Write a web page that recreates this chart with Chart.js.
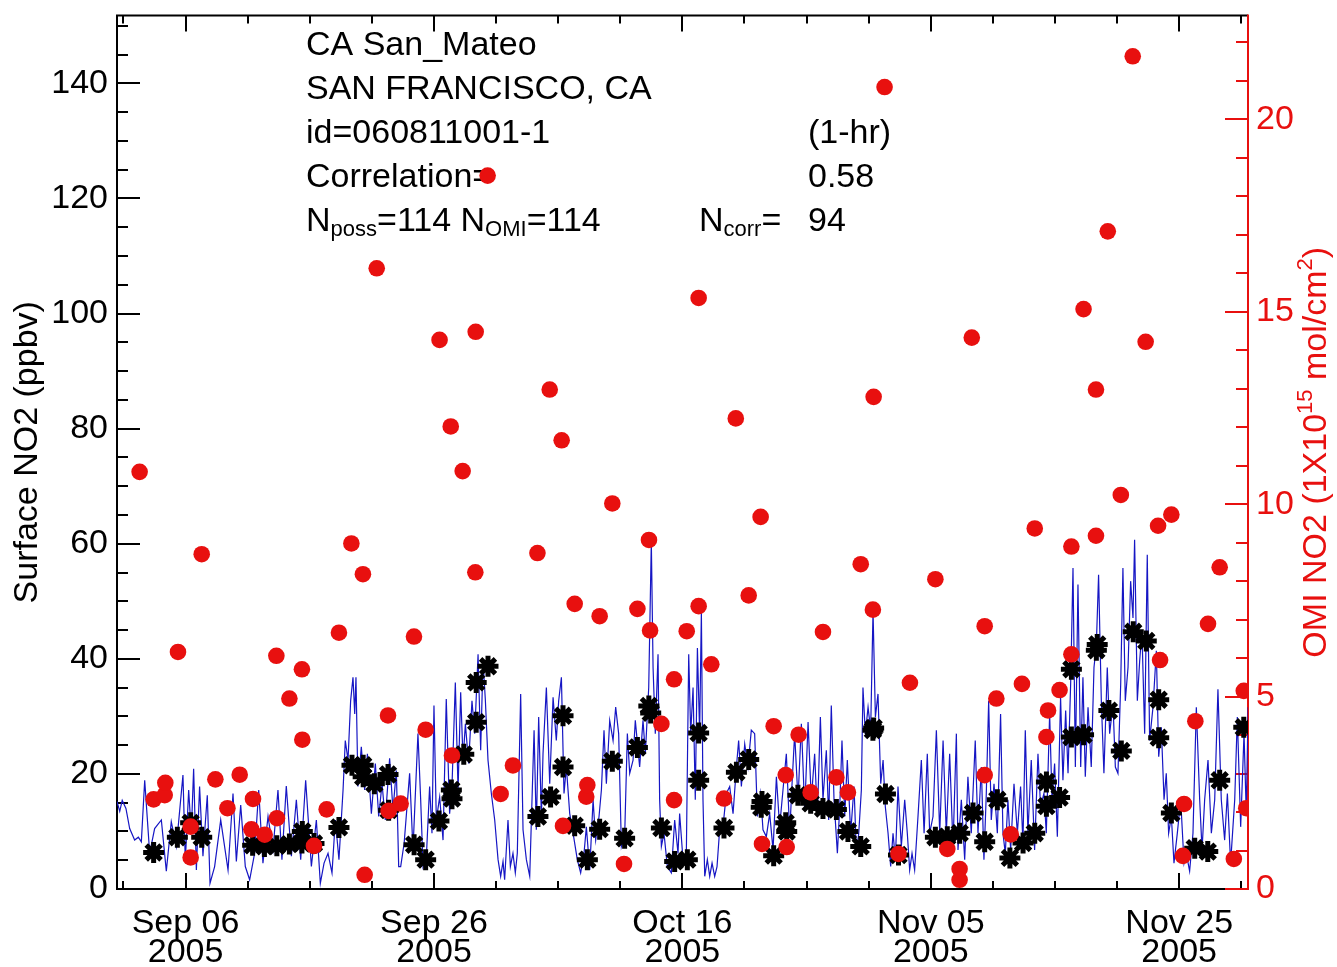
<!DOCTYPE html>
<html>
<head>
<meta charset="utf-8">
<script src="https://cdn.jsdelivr.net/npm/chart.js@4.4.0/dist/chart.umd.min.js"></script>
<style>
html,body{margin:0;padding:0;background:#ffffff;}
canvas{display:block;}
</style>
</head>
<body>
<canvas id="c" width="1337" height="967"></canvas>
<script>
const FONT = "'Liberation Sans', Arial, Helvetica, sans-serif";

// ---- info text ----
const siteName = "CA San_Mateo";
const cityName = "SAN FRANCISCO, CA";
const siteId = "id=060811001-1";
const avgLabel = "(1-hr)";
const corrLabel = "Correlation=";
const corrValue = "0.58";
const nPoss = 114, nOmi = 114, nCorr = 94;

// ---- axes ----
const xMin = -0.52, xMax = 90.54;          // days since 2005-09-01 00:00
const leftMax = 151.8, rightMax = 22.7;
const xTickValues = [5, 25, 45, 65, 85];
const xTickLabels = [["Sep 06","2005"],["Sep 26","2005"],["Oct 16","2005"],["Nov 05","2005"],["Nov 25","2005"]];
const leftTicks = [0, 20, 40, 60, 80, 100, 120, 140];
const rightTicks = [0, 5, 10, 15, 20];
const leftTitle = "Surface NO2 (ppbv)";

// ---- hourly surface NO2 (ppbv), days since Sep 1 ----
const hourlyT = [
-0.52,-0.3,-0.1,0.2,0.5,0.9,1.2,1.44,1.71,2.11,2.51,3.05,3.45,3.85,4.26,4.79,4.98,5.25,5.46,5.65,5.87,6.13,6.40,6.75,6.97,7.34,7.83,8.42,8.82,9.09,9.44,9.81,10.16,10.56,10.89,11.23,11.64,12.04,12.44,12.76,13.11,13.52,13.92,14.27,14.67,15.13,15.53,15.85,16.15,16.47,16.79,17.06,17.35,17.68,17.86,18.08,18.29,18.48,18.62,18.72,18.88,19.15,19.42,19.64,19.96,20.28,20.55,20.82,21.08,21.43,21.70,21.97,22.16,
22.32,22.6,23.04,23.31,23.71,23.93,24.12,24.39,24.65,24.84,25.0,25.19,25.46,25.73,25.99,26.26,26.45,26.72,26.94,27.15,27.34,27.53,27.79,28.06,28.28,28.55,28.76,28.95,29.14,29.35,29.62,29.89,30.16,30.37,30.56,30.69,30.96,31.15,31.36,31.55,31.71,31.98,32.17,32.44,32.71,33.06,33.24,33.43,33.65,33.78,34.05,34.32,34.59,34.85,35.04,35.26,35.47,35.66,35.93,36.2,36.54,36.81,37.08,37.27,37.54,37.81,38.02,38.29,38.48,38.69,38.88,39.15,39.42,39.63,39.87,40.09,40.36,40.57,40.76,41.03,41.21,41.56,41.83,42.02,42.29,42.50,42.64,42.82,43.04,43.17,43.31,43.52,43.79,44.11,44.38,44.65,
44.78,45.05,45.32,45.51,45.67,45.86,46.04,46.21,46.39,46.53,46.66,46.80,47.01,47.2,47.39,47.6,47.79,48.0,48.27,48.54,48.81,49.08,49.35,49.53,49.75,50.02,50.28,50.55,50.82,51.04,51.30,51.49,51.76,52.03,52.30,52.57,52.83,53.10,53.37,53.64,53.83,54.04,54.31,54.58,54.85,55.12,55.38,55.65,55.87,56.11,56.32,56.59,56.78,56.99,57.21,57.48,57.67,57.85,58.07,58.28,58.55,58.82,59.01,59.2,59.41,59.54,59.73,59.95,60.16,60.35,60.54,60.75,60.97,61.16,61.34,61.56,61.77,61.96,62.15,62.36,62.63,62.9,63.11,63.3,63.49,63.7,63.97,64.24,64.46,64.72,64.91,65.18,65.45,65.72,65.99,66.25,66.52,66.79,
67.06,67.19,67.46,67.73,67.99,68.26,68.58,68.80,69.07,69.28,69.47,69.66,69.87,70.09,70.36,70.62,70.81,71.0,71.21,71.43,71.70,71.97,72.23,72.42,72.61,72.82,73.09,73.36,73.63,73.84,74.11,74.30,74.57,74.76,74.97,75.19,75.45,75.64,75.86,76.05,76.26,76.45,76.64,76.85,77.07,77.25,77.44,77.66,77.92,78.14,78.33,78.51,78.73,78.94,79.21,79.40,79.67,79.86,80.07,80.29,80.47,80.66,80.88,81.09,81.28,81.41,81.63,81.82,82.0,82.22,82.43,82.62,82.89,83.16,83.35,83.56,83.78,83.96,84.15,84.37,84.58,84.85,85.12,85.39,85.57,85.84,86.11,86.38,86.65,86.84,87.05,87.32,87.59,87.86,88.12,88.39,88.66,88.88,89.14,89.47,89.68,89.95,90.22,90.40,90.55
];
const hourlyV = [
15.2,13.5,15.4,14.0,10.5,8.5,9.0,8.2,18.9,6.2,10.5,12.0,3.1,11.7,7.4,19.8,4.8,17.2,9.7,20.9,3.3,17.8,5.7,16.3,1.0,3.9,12.0,3.3,16.6,4.8,14.6,3.9,1.6,6.2,17.2,4.5,12.6,6.8,17.2,5.1,17.9,5.7,15.5,5.1,18.9,3.9,12.0,1.0,4.5,6.2,2.8,12.0,5.1,17.2,25.8,22.4,32.7,36.8,30.4,36.8,17.8,24.7,17.2,23.5,13.1,21.8,12.6,18.3,12.0,22.7,13.7,20.6,3.9,
3.9,8.0,20.1,6.8,27.0,15.5,3.9,5.7,17.8,9.7,31.9,12.0,16.0,8.5,33.0,13.1,17.8,35.9,17.2,34.2,22.4,28.7,21.8,32.7,27.0,40.8,24.1,39.7,32.7,22.4,16.6,12.0,5.1,2.2,4.8,1.6,12.0,3.9,6.2,2.8,6.2,33.9,10.3,5.1,2.2,27.6,10.3,29.9,12.6,23.5,35.0,18.3,33.3,25.8,32.7,36.8,16.6,21.2,13.1,9.7,5.1,2.8,6.2,10.8,3.3,15.5,8.5,12.6,17.2,27.6,18.3,29.3,25.8,31.6,27.0,7.4,9.7,27.0,20.1,22.4,29.3,21.2,29.3,23.5,35.0,60.4,38.5,27.0,40.8,15.5,7.4,9.7,3.9,2.8,12.0,6.2,
13.1,5.1,6.2,40.8,27.0,35.0,15.5,41.9,27.0,48.3,15.5,2.2,5.1,2.2,4.5,2.2,3.9,10.3,10.8,16.6,17.8,13.1,21.2,25.8,17.8,25.2,21.2,27.6,27.0,12.6,16.6,10.3,9.1,13.1,6.8,19.5,10.8,17.2,23.5,9.7,18.3,27.0,15.5,28.7,13.7,29.0,15.5,23.5,12.6,29.9,15.5,24.1,12.0,31.9,15.5,6.2,14.3,25.8,12.6,22.4,9.7,17.8,6.2,9.7,17.2,35.0,27.0,31.6,27.6,48.3,29.9,33.9,18.3,22.4,14.3,9.7,3.9,9.7,5.1,17.8,7.4,15.5,9.7,3.3,6.2,3.3,12.6,22.4,9.7,23.5,9.7,12.6,27.6,9.7,25.8,9.7,23.5,7.4,
27.0,6.8,15.5,5.1,19.5,9.7,25.8,9.7,21.2,5.1,16.6,32.7,12.0,18.3,9.7,30.4,9.7,6.2,15.5,6.8,18.3,9.7,17.8,8.0,27.6,9.7,22.4,6.8,23.5,14.3,16.6,9.7,30.4,15.5,21.8,9.1,33.3,18.9,31.0,20.1,35.6,55.8,21.2,52.9,21.2,36.8,19.5,31.6,21.2,38.5,42.5,54.6,32.7,20.1,38.5,27.0,32.2,21.2,20.1,35.6,55.8,32.7,38.5,53.5,47.1,60.7,32.7,39.7,44.8,27.0,58.1,25.8,31.6,41.4,23.0,28.1,15.5,20.1,9.7,12.6,4.5,9.7,15.5,4.5,6.2,3.1,9.7,31.6,15.5,6.8,15.5,22.4,9.7,15.5,34.7,15.5,8.5,16.6,4.5,15.5,29.9,10.8,27.0,13.1,31.6
];

// ---- surface NO2 at OMI overpass (ppbv) ----
const overpassT = [2.43,4.34,5.41,6.30,10.40,11.35,12.35,13.36,14.37,14.40,15.34,17.35,18.4,19.3,19.3,20.2,21.3,21.35,23.40,24.33,25.40,26.40,26.45,27.40,28.40,28.40,29.35,33.37,34.39,35.39,35.39,36.33,37.35,38.34,39.36,40.35,41.38,42.30,42.45,43.31,44.38,45.40,46.31,46.31,48.35,49.35,50.34,51.35,51.41,52.35,53.32,53.40,54.30,55.33,56.32,57.40,58.33,59.36,60.34,60.40,61.35,62.40,65.37,66.33,67.33,68.40,69.34,70.36,71.37,72.43,73.37,74.31,74.31,75.37,76.32,76.32,77.3,78.33,78.40,79.34,80.34,81.30,82.35,83.35,83.35,84.37,86.25,87.30,88.26,90.2];
const overpassV = [6.35,9.0,11.5,9.0,7.6,7.4,7.5,7.8,8.0,10.0,7.9,10.7,21.5,21.5,19.5,18.3,19.9,13.7,7.7,5.1,11.8,17.2,15.7,23.4,35.9,29.0,38.7,12.6,16.0,30.1,21.2,11.0,5.1,10.4,22.2,8.8,24.6,31.8,30.6,10.6,4.8,5.1,27.1,18.9,10.6,20.3,22.5,14.2,15.2,5.8,11.5,10.0,16.3,14.9,14.0,13.8,10.0,7.4,27.6,28.0,16.5,5.9,9.0,9.1,9.7,13.2,8.2,15.5,5.4,8.0,9.7,18.6,14.4,15.9,38.2,26.4,26.8,41.5,42.5,31.0,24.0,44.7,43.1,32.9,26.3,13.2,7.1,6.5,18.9,28.1];

// ---- OMI NO2 (1e15 molec/cm2) ----
const omiT = [1.30,2.43,3.32,3.37,4.39,5.41,5.41,6.30,7.40,8.37,9.36,10.30,10.43,11.37,12.31,12.36,13.36,14.37,14.40,15.34,16.36,17.35,18.35,19.28,19.42,20.39,21.30,21.35,22.32,23.39,24.33,25.45,26.35,26.45,27.31,28.33,28.36,29.32,30.37,31.36,33.33,34.32,35.28,35.39,36.33,37.26,37.35,38.34,39.36,40.30,41.38,42.31,42.40,43.31,44.33,44.33,45.35,46.31,46.31,47.33,48.35,49.30,50.34,51.30,51.41,52.35,53.32,53.40,54.36,55.33,56.32,57.40,58.33,59.36,60.34,60.40,61.28,62.40,63.32,65.37,66.33,67.32,67.32,68.30,69.34,69.34,70.28,71.44,72.34,73.37,74.31,74.44,75.37,76.32,76.32,77.30,78.30,78.30,79.25,80.30,81.26,82.30,83.30,83.46,84.37,85.30,85.39,86.30,87.32,88.26,89.40,90.20,90.40];
const omiV = [10.84,2.33,2.44,2.76,6.16,1.62,0.82,8.70,2.85,2.10,2.97,1.55,2.34,1.41,6.06,1.84,4.95,5.71,3.88,1.12,2.07,6.66,8.98,8.18,0.37,16.13,4.51,2.03,2.22,6.56,4.14,14.27,12.02,3.47,10.86,8.23,14.48,18.54,2.47,3.21,8.73,12.98,11.66,1.64,7.41,2.40,2.70,7.09,10.02,0.65,7.28,9.07,6.72,4.29,5.45,2.31,6.70,7.35,15.36,5.84,2.35,12.23,7.63,9.67,1.17,4.23,2.96,1.09,4.01,2.51,6.68,2.90,2.51,8.44,7.26,12.79,20.84,0.91,5.36,8.05,1.04,0.52,0.24,14.33,6.83,2.96,4.95,1.42,5.33,9.37,3.95,4.64,5.17,8.90,6.10,15.07,9.18,12.98,17.09,10.24,21.64,14.22,9.44,5.95,9.73,0.86,2.21,4.36,6.89,8.36,0.78,5.15,2.10];

const RED = '#e8100f';
const BLUE = '#1616c4';

function drawRuns(ctx, x, y, runs) {
  let cx = x;
  for (const [txt, size, dy] of runs) {
    ctx.font = size + 'px ' + FONT;
    ctx.fillText(txt, cx, y + dy);
    cx += ctx.measureText(txt).width;
  }
}

const framePlugin = {
  id: 'frame',
  beforeDraw(chart) {
    const ctx = chart.ctx;
    ctx.save();
    ctx.fillStyle = '#ffffff';
    ctx.fillRect(0, 0, chart.width, chart.height);
    ctx.restore();
  },
  beforeDatasetsDraw(chart) {
    const { ctx, chartArea: a, scales } = chart;
    const sx = scales.x, sl = scales.y, sr = scales.y2;
    ctx.save();
    // info text block
    ctx.fillStyle = '#000';
    ctx.textBaseline = 'alphabetic';
    ctx.textAlign = 'left';
    const X0 = 306, X1 = 808, XN = 699;
    drawRuns(ctx, X0, 55, [[siteName, 34, 0]]);
    drawRuns(ctx, X0, 99, [[cityName, 34, 0]]);
    drawRuns(ctx, X0, 143, [[siteId, 34, 0]]);
    drawRuns(ctx, X1, 143, [[avgLabel, 34, 0]]);
    drawRuns(ctx, X0, 187, [[corrLabel, 34, 0]]);
    drawRuns(ctx, X1, 187, [[corrValue, 34, 0]]);
    drawRuns(ctx, X0, 231, [["N", 34, 0], ["poss", 22, 5], ["=" + nPoss + " N", 34, 0], ["OMI", 22, 5], ["=" + nOmi, 34, 0]]);
    drawRuns(ctx, XN, 231, [["N", 34, 0], ["corr", 22, 5], ["=", 34, 0]]);
    drawRuns(ctx, X1, 231, [[String(nCorr), 34, 0]]);

    // frame
    ctx.lineWidth = 2;
    ctx.strokeStyle = '#000';
    ctx.beginPath();
    ctx.moveTo(a.left, a.top); ctx.lineTo(a.right, a.top);
    ctx.moveTo(a.left, a.bottom); ctx.lineTo(a.right, a.bottom);
    ctx.moveTo(a.left, a.top - 1); ctx.lineTo(a.left, a.bottom + 1);
    ctx.stroke();
    // x ticks (bottom and top)
    ctx.beginPath();
    for (let k = 0; k <= 18; k++) {
      const t = k * 5;
      const px = Math.round(sx.getPixelForValue(t));
      const L = xTickValues.includes(t) ? 16 : 8;
      ctx.moveTo(px, a.bottom); ctx.lineTo(px, a.bottom - L);
      ctx.moveTo(px, a.top); ctx.lineTo(px, a.top + L);
    }
    // left ticks
    for (let k = 0; k <= 30; k++) {
      const v = k * 5;
      const py = Math.round(sl.getPixelForValue(v));
      const L = (v % 20 === 0) ? 23 : 11;
      ctx.moveTo(a.left, py); ctx.lineTo(a.left + L, py);
    }
    ctx.stroke();
    // right axis (red)
    ctx.strokeStyle = RED;
    ctx.beginPath();
    ctx.moveTo(a.right, a.top - 1); ctx.lineTo(a.right, a.bottom + 1);
    for (let k = 0; k <= 22; k++) {
      const py = Math.round(sr.getPixelForValue(k));
      const L = (k % 5 === 0) ? 23 : 12;
      ctx.moveTo(a.right, py); ctx.lineTo(a.right - L, py);
    }
    ctx.stroke();
    ctx.restore();
  },
  afterDraw(chart) {
    const { ctx, chartArea: a } = chart;
    // right axis title, rotated, reading bottom to top
    const runs = [["OMI NO2 (1X10", 34, 0], ["15", 22, -14], [" mol/cm", 34, 0], ["2", 22, -14], [")", 34, 0]];
    ctx.save();
    let w = 0;
    for (const [t, s] of runs) { ctx.font = s + 'px ' + FONT; w += ctx.measureText(t).width; }
    ctx.translate(1326, (a.top + a.bottom) / 2);
    ctx.rotate(-Math.PI / 2);
    ctx.fillStyle = RED;
    ctx.textBaseline = 'alphabetic';
    drawRuns(ctx, -w / 2, 0, runs);
    ctx.restore();
  }
};

function noPadY(s, w) { s.width = w; s.paddingTop = 0; s.paddingBottom = 0; }

const hourly = hourlyT.map((t, i) => ({ x: t, y: hourlyV[i] }));
const overpass = overpassT.map((t, i) => ({ x: t, y: overpassV[i] }));
const omi = omiT.map((t, i) => ({ x: t, y: omiV[i] }));

new Chart(document.getElementById('c'), {
  type: 'scatter',
  data: {
    datasets: [
      { label: 'OMI NO2', data: omi, yAxisID: 'y2', pointStyle: 'circle', pointRadius: 8.3,
        backgroundColor: RED, borderColor: RED, borderWidth: 0, order: 0 },
      { label: 'Surface NO2 at overpass', data: overpass, yAxisID: 'y', pointStyle: 'star', pointRadius: 10.5,
        borderColor: '#000', backgroundColor: '#000', borderWidth: 5, order: 1 },
      { label: 'Surface NO2 hourly', data: hourly, yAxisID: 'y', showLine: true, pointRadius: 0,
        borderColor: BLUE, borderWidth: 1.2, tension: 0, order: 2 }
    ]
  },
  options: {
    responsive: false,
    animation: false,
    devicePixelRatio: 1,
    layout: { padding: { top: 11, left: 0, right: 0, bottom: 0 } },
    plugins: { legend: { display: false }, tooltip: { enabled: false } },
    scales: {
      x: {
        type: 'linear', min: xMin, max: xMax,
        grid: { display: false, drawTicks: false }, border: { display: false },
        afterBuildTicks: s => { s.ticks = xTickValues.map(v => ({ value: v })); },
        afterFit: s => { s.height = 78; s.paddingLeft = 0; s.paddingRight = 0; },
        ticks: { autoSkip: false, maxRotation: 0, minRotation: 0, padding: 20, color: '#000',
          font: { family: FONT, size: 34, lineHeight: '29px' },
          callback: (v, i) => xTickLabels[i] }
      },
      y: {
        type: 'linear', position: 'left', min: 0, max: leftMax,
        grid: { display: false, drawTicks: false }, border: { display: false },
        afterBuildTicks: s => { s.ticks = leftTicks.map(v => ({ value: v })); },
        afterFit: s => noPadY(s, 117),
        ticks: { padding: 9, color: '#000', font: { family: FONT, size: 34 } },
        title: { display: true, text: leftTitle, color: '#000', font: { family: FONT, size: 34 }, padding: { top: 7, bottom: 0 } }
      },
      y2: {
        type: 'linear', position: 'right', min: 0, max: rightMax,
        grid: { display: false, drawTicks: false }, border: { display: false },
        afterBuildTicks: s => { s.ticks = rightTicks.map(v => ({ value: v })); },
        afterFit: s => noPadY(s, 89),
        ticks: { padding: 8, color: RED, font: { family: FONT, size: 34 } }
      }
    }
  },
  plugins: [framePlugin]
});
</script>
</body>
</html>
